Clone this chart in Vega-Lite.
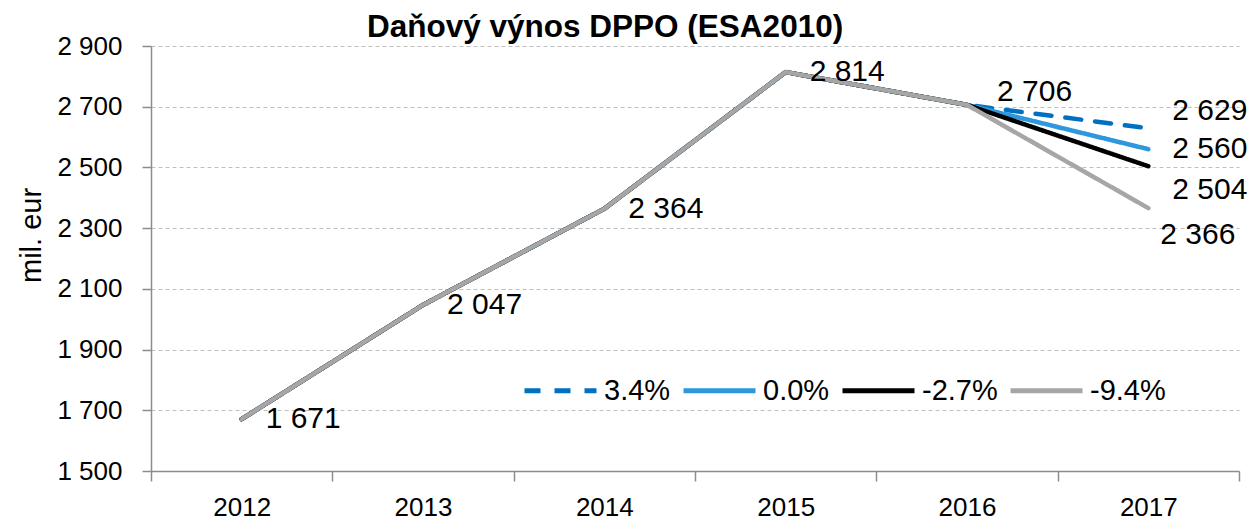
{
  "$schema": "https://vega.github.io/schema/vega-lite/v6.json",
  "width": 1088,
  "height": 425,
  "autosize": {"type": "none"},
  "padding": {"left": 151, "top": 46, "right": 11, "bottom": 53},
  "background": "white",
  "config": {
    "locale": {"number": {"decimal": ",", "thousands": " ", "grouping": [3], "currency": ["", ""]}},
    "font": "Liberation Sans, Arial, sans-serif",
    "view": {"stroke": null}
  },
  "title": {
    "text": "Daňový výnos DPPO (ESA2010)",
    "anchor": "start",
    "frame": "group",
    "dx": 216,
    "dy": 40,
    "offset": 5,
    "baseline": "alphabetic",
    "fontSize": 31.5,
    "fontWeight": "bold",
    "color": "#000000",
    "font": "Liberation Sans, Arial, sans-serif"
  },
  "data": {
    "values": [
      {"series": "3.4%", "year": 2012, "value": 1671},
      {"series": "3.4%", "year": 2013, "value": 2047},
      {"series": "3.4%", "year": 2014, "value": 2364},
      {"series": "3.4%", "year": 2015, "value": 2814},
      {"series": "3.4%", "year": 2016, "value": 2706},
      {"series": "3.4%", "year": 2017, "value": 2629},
      {"series": "0.0%", "year": 2012, "value": 1671},
      {"series": "0.0%", "year": 2013, "value": 2047},
      {"series": "0.0%", "year": 2014, "value": 2364},
      {"series": "0.0%", "year": 2015, "value": 2814},
      {"series": "0.0%", "year": 2016, "value": 2706},
      {"series": "0.0%", "year": 2017, "value": 2560},
      {"series": "-2.7%", "year": 2012, "value": 1671},
      {"series": "-2.7%", "year": 2013, "value": 2047},
      {"series": "-2.7%", "year": 2014, "value": 2364},
      {"series": "-2.7%", "year": 2015, "value": 2814},
      {"series": "-2.7%", "year": 2016, "value": 2706},
      {"series": "-2.7%", "year": 2017, "value": 2504},
      {"series": "-9.4%", "year": 2012, "value": 1671},
      {"series": "-9.4%", "year": 2013, "value": 2047},
      {"series": "-9.4%", "year": 2014, "value": 2364},
      {"series": "-9.4%", "year": 2015, "value": 2814},
      {"series": "-9.4%", "year": 2016, "value": 2706},
      {"series": "-9.4%", "year": 2017, "value": 2366}
    ]
  },
  "encoding": {
    "x": {
      "field": "year",
      "type": "quantitative",
      "scale": {"domain": [2011.5, 2017.5], "nice": false, "zero": false},
      "axis": {
        "title": null,
        "values": [2011.5, 2012.5, 2013.5, 2014.5, 2015.5, 2016.5, 2017.5],
        "labelExpr": "datum.value < 2017 ? format(datum.value + 0.5, 'd') : ''",
        "labelOffset": 90.67,
        "grid": false,
        "domainColor": "#8C8C8C",
        "domainWidth": 1.5,
        "tickColor": "#8C8C8C",
        "tickWidth": 1.5,
        "tickSize": 10,
        "labelFontSize": 26,
        "labelColor": "#000000",
        "labelPadding": 13,
        "labelFlush": false,
        "labelOverlap": false
      }
    },
    "y": {
      "field": "value",
      "type": "quantitative",
      "scale": {"domain": [1500, 2900], "nice": false, "zero": false},
      "axis": {
        "title": "mil. eur",
        "values": [1500, 1700, 1900, 2100, 2300, 2500, 2700, 2900],
        "format": ",d",
        "grid": true,
        "gridColor": "#BFBFBF",
        "gridDash": [4, 3],
        "gridWidth": 1.2,
        "domainColor": "#8C8C8C",
        "domainWidth": 1.5,
        "tickColor": "#8C8C8C",
        "tickWidth": 1.5,
        "tickSize": 9,
        "labelFontSize": 26,
        "labelColor": "#000000",
        "labelPadding": 20,
        "titleFontSize": 29,
        "titleFontWeight": "normal",
        "titleColor": "#000000",
        "titleX": -120,
        "titleY": 189,
        "titleAlign": "center",
        "titleBaseline": "middle"
      }
    }
  },
  "layer": [
    {
      "mark": {"type": "line", "strokeWidth": 4.5, "strokeCap": "round", "strokeJoin": "round"},
      "encoding": {
        "color": {
          "field": "series",
          "type": "nominal",
          "scale": {"domain": ["3.4%", "0.0%", "-2.7%", "-9.4%"], "range": ["#0070C0", "#2F98DD", "#000000", "#A8A5A5"]},
          "legend": {
            "title": null,
            "orient": "none",
            "legendX": 371,
            "legendY": 306,
            "direction": "horizontal",
            "columns": 4,
            "symbolType": "stroke",
            "symbolSize": 5184,
            "symbolStrokeWidth": 5,
            "labelFontSize": 29,
            "labelColor": "#000000",
            "labelOffset": 5,
            "columnPadding": 2,
            "labelLimit": 200
          }
        },
        "strokeDash": {
          "field": "series",
          "type": "nominal",
          "scale": {"domain": ["3.4%", "0.0%", "-2.7%", "-9.4%"], "range": [[16, 14], [1, 0], [1, 0], [1, 0]]},
          "legend": null
        }
      }
    },
    {
      "transform": [{"filter": "datum.series == '-9.4%' && datum.year <= 2015"}],
      "mark": {"type": "text", "align": "left", "baseline": "middle", "dx": 24, "fontSize": 30, "color": "#000000"},
      "encoding": {"text": {"field": "value", "type": "quantitative", "format": ",d"}}
    },
    {
      "transform": [{"filter": "datum.series == '-9.4%' && datum.year == 2016"}],
      "mark": {"type": "text", "align": "left", "baseline": "middle", "dx": 30, "dy": -13, "fontSize": 30, "color": "#000000"},
      "encoding": {"text": {"field": "value", "type": "quantitative", "format": ",d"}}
    },
    {
      "transform": [{"filter": "datum.series == '3.4%' && datum.year == 2017"}],
      "mark": {"type": "text", "align": "left", "baseline": "middle", "dx": 24, "dy": -17, "fontSize": 30, "color": "#000000"},
      "encoding": {"text": {"field": "value", "type": "quantitative", "format": ",d"}}
    },
    {
      "transform": [{"filter": "datum.series == '0.0%' && datum.year == 2017"}],
      "mark": {"type": "text", "align": "left", "baseline": "middle", "dx": 24, "dy": 0, "fontSize": 30, "color": "#000000"},
      "encoding": {"text": {"field": "value", "type": "quantitative", "format": ",d"}}
    },
    {
      "transform": [{"filter": "datum.series == '-2.7%' && datum.year == 2017"}],
      "mark": {"type": "text", "align": "left", "baseline": "middle", "dx": 24, "dy": 24, "fontSize": 30, "color": "#000000"},
      "encoding": {"text": {"field": "value", "type": "quantitative", "format": ",d"}}
    },
    {
      "transform": [{"filter": "datum.series == '-9.4%' && datum.year == 2017"}],
      "mark": {"type": "text", "align": "left", "baseline": "middle", "dx": 12, "dy": 27, "fontSize": 30, "color": "#000000"},
      "encoding": {"text": {"field": "value", "type": "quantitative", "format": ",d"}}
    }
  ]
}
